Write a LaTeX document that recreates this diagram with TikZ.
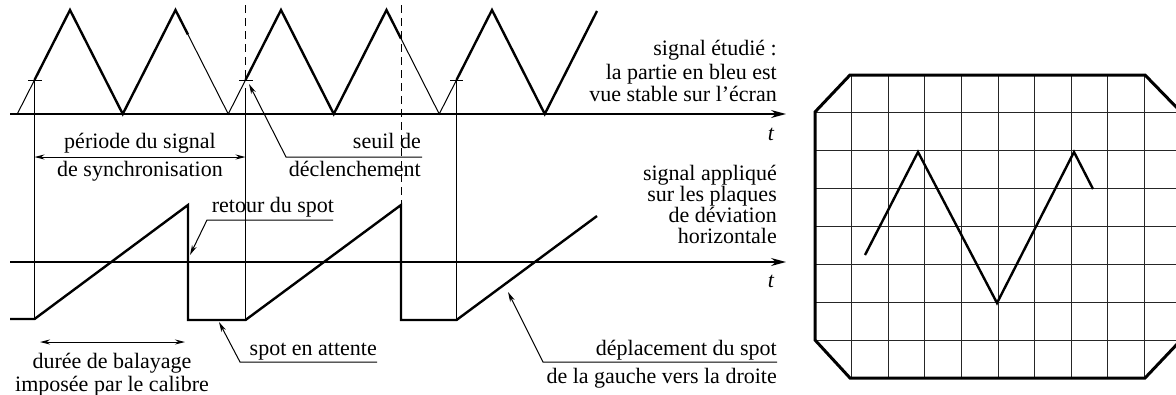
\documentclass[tikz,border=0pt]{standalone}
\usepackage{fontspec}
\setmainfont{Liberation Serif}
\usetikzlibrary{arrows.meta}
\begin{document}
\begin{tikzpicture}[x=1pt,y=-1pt,
  wthick/.style={line width=2.4pt, line join=miter},
  wthin/.style={line width=1pt},
  axisline/.style={line width=1.2pt,-{Stealth[length=15pt,width=8pt]}},
  leader/.style={line width=1pt,-{Stealth[length=10pt,width=5pt]}},
  dimarrow/.style={line width=1pt,{Stealth[length=10pt,width=5pt]}-{Stealth[length=10pt,width=5pt]}},
  guide/.style={line width=1pt},
  dashguide/.style={line width=1pt, dash pattern=on 8pt off 5pt},
  lbl/.style={font=\fontsize{22}{24}\selectfont, inner sep=0pt},
  gridline/.style={line width=1pt, black!85},
  frameline/.style={line width=3pt, line join=miter}
]
\useasboundingbox (0,0) rectangle (1176,394);

% ---------- top signal ----------
\coordinate (ax1s) at (10,114);
\coordinate (ax1e) at (786,114);
\draw[axisline] (ax1s) -- (ax1e);
\node[lbl, anchor=base] (t1) at (771,140) {\itshape t};

\draw[wthin] (17.25,114) -- (34.5,80);
\draw[wthick] (34.5,80) -- (70,10) -- (122.75,114) -- (175.5,10) -- (188,34.6);
\draw[wthin] (188,34.6) -- (228.25,114) -- (245.5,80);
\draw[wthick] (245.5,80) -- (281,10) -- (333.75,114) -- (386.5,10) -- (401,38.6);
\draw[wthin] (401,38.6) -- (439.25,114) -- (456.5,80);
\draw[wthick] (456.5,80) -- (492,10) -- (544.75,114) -- (597,11);

% threshold ticks
\draw[guide] (28,80) -- (42,80);
\draw[guide] (239,80) -- (253,80);
\draw[guide] (450,80) -- (463,80);

% vertical guides
\draw[guide] (34.5,80) -- (34.5,319);
\draw[guide] (245.5,88) -- (245.5,320);
\draw[guide] (456.5,80) -- (456.5,320);
\draw[dashguide] (245.5,5) -- (245.5,80);
\draw[dashguide] (401,5) -- (401,205);

% labels top
\node[lbl, anchor=base east] (se1) at (777,55) {signal étudié :};
\node[lbl, anchor=base east] (se2) at (777,79) {la partie en bleu est};
\node[lbl, anchor=base east] (se3) at (777,101) {vue stable sur l’écran};

\node[lbl, anchor=base] (per1) at (140,148) {période du signal};
\node[lbl, anchor=base] (per2) at (140,176) {de synchronisation};
\coordinate (perA) at (34.5,157);
\coordinate (perB) at (245.5,157);
\draw[dimarrow] (perA) -- (perB);

\node[lbl, anchor=base east] (seuil1) at (421,148) {seuil de};
\node[lbl, anchor=base east] (seuil2) at (421,176) {déclenchement};
\coordinate (seuilU) at (422,157);
\coordinate (seuilK) at (286,157);
\coordinate (seuilT) at (249,84);
\draw[leader] (seuilU) -- (seuilK) -- (seuilT);

% ---------- bottom signal ----------
\coordinate (ax2s) at (10,262);
\coordinate (ax2e) at (786,262);
\draw[axisline] (ax2s) -- (ax2e);
\node[lbl, anchor=base] (t2) at (771,287) {\itshape t};

\draw[wthick] (10,319) -- (34.5,319) -- (188,205) -- (188,320) -- (245.5,320)
  -- (401,205) -- (401,320) -- (456.5,320) -- (597,216);

\node[lbl, anchor=base east] (sa1) at (777,180) {signal appliqué};
\node[lbl, anchor=base east] (sa2) at (777,201) {sur les plaques};
\node[lbl, anchor=base east] (sa3) at (777,222) {de déviation};
\node[lbl, anchor=base east] (sa4) at (777,243) {horizontale};

\node[lbl, anchor=base] (ret) at (273,212) {retour du spot};
\coordinate (retU) at (333,220);
\coordinate (retK) at (207,220);
\coordinate (retT) at (190,255);
\draw[leader] (retU) -- (retK) -- (retT);

\node[lbl, anchor=base east] (att) at (377,355) {spot en attente};
\coordinate (attU) at (377,362);
\coordinate (attK) at (240,362);
\coordinate (attT) at (219,322);
\draw[leader] (attU) -- (attK) -- (attT);

\node[lbl, anchor=base east] (dep1) at (777,355) {déplacement du spot};
\node[lbl, anchor=base east] (dep2) at (777,383) {de la gauche vers la droite};
\coordinate (depU) at (777,362);
\coordinate (depK) at (543,362);
\coordinate (depT) at (508,292);
\draw[leader] (depU) -- (depK) -- (depT);

\coordinate (durA) at (40,342);
\coordinate (durB) at (185,342);
\draw[dimarrow] (durA) -- (durB);
\node[lbl, anchor=base] (dur1) at (112,368) {durée de balayage};
\node[lbl, anchor=base] (dur2) at (112,391) {imposée par le calibre};

% ---------- screen ----------
\begin{scope}
\clip (815,112) -- (850,75) -- (1145,75) -- (1181,112) -- (1181,340) -- (1145,378) -- (850,378) -- (815,340) -- cycle;
\foreach \i in {1,...,9} \draw[gridline] ({815+\i*36.6},70) -- ({815+\i*36.6},385);
\foreach \j in {1,...,7} \draw[gridline] (810,{75+\j*37.875}) -- (1190,{75+\j*37.875});
\end{scope}
\draw[frameline] (815,112) -- (850,75) -- (1145,75) -- (1181,112) -- (1181,340) -- (1145,378) -- (850,378) -- (815,340) -- cycle;
\draw[wthick] (865,255) -- (918,152) -- (997,303) -- (1074,152) -- (1093,189);
\end{tikzpicture}
\end{document}
